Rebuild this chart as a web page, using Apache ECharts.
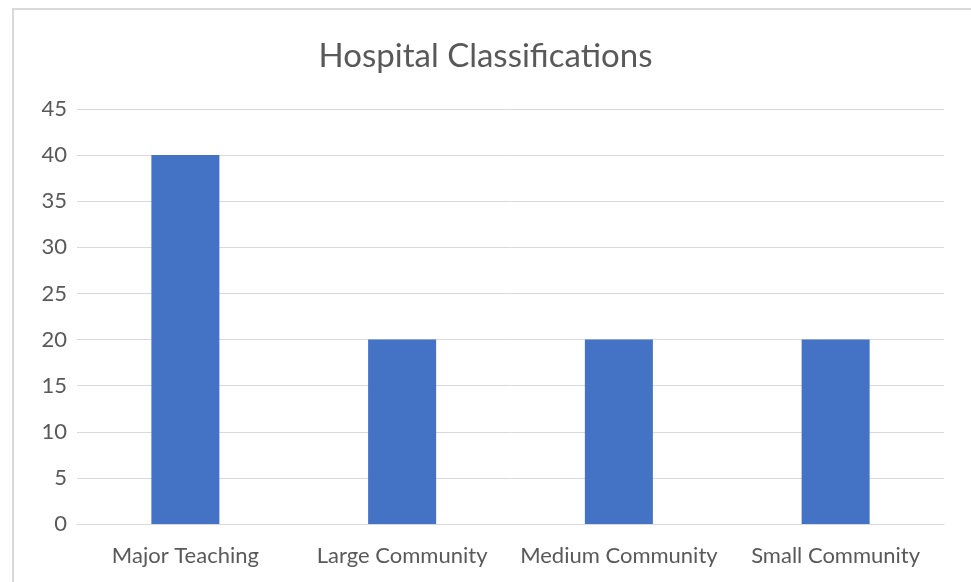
<!DOCTYPE html>
<html>
<head>
<meta charset="utf-8">
<script src="https://cdn.jsdelivr.net/npm/echarts@6/dist/echarts.min.js"></script>
<style>
  html, body { margin: 0; padding: 0; background: #fff; }
  #chart { width: 971px; height: 582px; }
</style>
</head>
<body>
<div id="chart"></div>
<script>
const categories = ['Major Teaching', 'Large Community', 'Medium Community', 'Small Community']
const counts = [40, 20, 20, 20]

const chart = echarts.init(document.getElementById('chart'))

chart.setOption({
  animation: false,
  textStyle: { fontFamily: 'Lato' },
  graphic: [
    {
      type: 'rect',
      shape: { x: 13, y: 9, width: 1000, height: 600 },
      style: { fill: 'none', stroke: '#d9d9d9', lineWidth: 2 }
    }
  ],
  title: {
    text: 'Hospital Classifications',
    left: 'center',
    top: 35,
    textStyle: { fontFamily: 'Lato', fontSize: 33, fontWeight: 'normal', color: '#595959' }
  },
  grid: { left: 77, right: 27, top: 109, bottom: 58, containLabel: false },
  xAxis: {
    type: 'category',
    data: categories,
    axisLine: { lineStyle: { color: '#d9d9d9', width: 1 } },
    axisTick: { show: false },
    axisLabel: { color: '#595959', fontSize: 22, margin: 21, interval: 0 }
  },
  yAxis: {
    type: 'value',
    min: 0,
    max: 45,
    interval: 5,
    axisLine: { show: false },
    axisTick: { show: false },
    axisLabel: { color: '#595959', fontSize: 22, margin: 10 },
    splitLine: { lineStyle: { color: '#d9d9d9', width: 1 } }
  },
  series: [
    {
      type: 'bar',
      data: counts,
      barWidth: 68,
      itemStyle: { color: '#4472c4' }
    }
  ]
})
</script>
</body>
</html>
